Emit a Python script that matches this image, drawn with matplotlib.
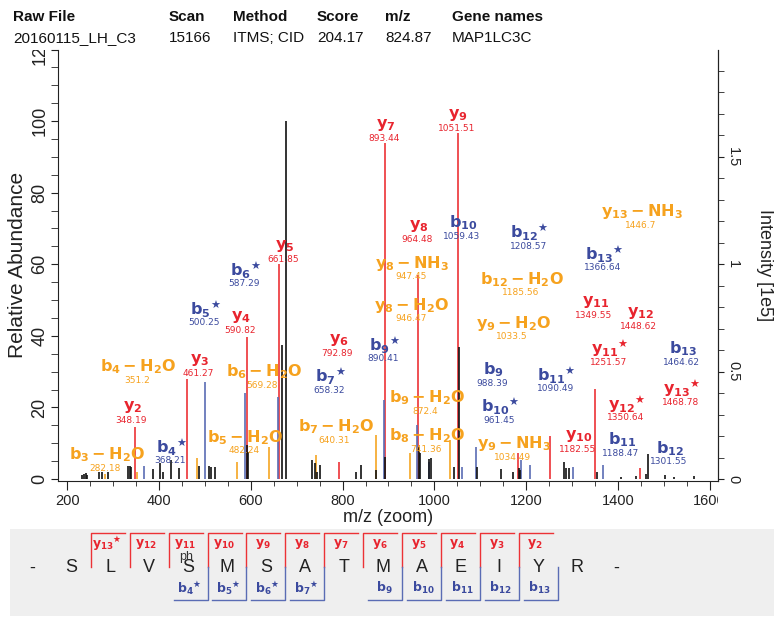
import re
import matplotlib
matplotlib.use("Agg")
import matplotlib.pyplot as plt
from matplotlib.lines import Line2D
from matplotlib.patches import Rectangle
from matplotlib.transforms import Bbox, TransformedBbox

plt.rcParams['font.family'] = ['Liberation Sans', 'DejaVu Sans']
plt.rcParams['mathtext.fontset'] = 'dejavusans'

W, H = 774, 623

# ---- header -------------------------------------------------------------
header_keys = ["Raw File", "Scan", "Method", "Score", "m/z", "Gene names"]
header_vals = ["20160115_LH_C3", "15166", "ITMS; CID", "204.17", "824.87", "MAP1LC3C"]

# ---- spectrum: unassigned peaks (m/z, relative abundance) ------------------
other_mz = [232.7, 237.1, 240.3, 243.6, 270.4, 275.6, 288.7, 332.3, 335.8, 339.5,
            386.8, 402.7, 407.7, 426.0, 444.1, 487.6, 509.5, 513.8, 521.0, 591.6,
            593.8, 667.9, 676.6, 733.2, 738.9, 744.1, 751.3, 829.1, 840.6, 873.4,
            892.9, 967.0, 969.6, 989.0, 992.0, 1043.3, 1052.7, 1092.8, 1145.1, 1171.2,
            1184.3, 1187.2, 1283.0, 1287.4, 1292.4, 1354.3, 1407.2, 1439.9, 1461.3, 1464.8,
            1501.8, 1522.9, 1566.5]
other_rel = [1.0, 1.4, 1.6, 1.2, 2.0, 2.0, 2.0, 3.6, 3.6, 3.4,
             2.8, 4.6, 2.0, 5.3, 3.1, 3.6, 3.6, 3.4, 3.4, 9.5,
             7.5, 37.4, 100.0, 5.3, 4.4, 2.0, 3.9, 2.0, 3.9, 2.5,
             6.2, 9.0, 7.2, 5.5, 5.9, 3.4, 37.0, 3.4, 2.8, 2.1,
             3.0, 2.5, 4.8, 3.2, 3.0, 2.0, 0.7, 0.9, 1.5, 7.0,
             1.0, 0.5, 0.8]

# assigned peaks
y_mz = [348.19, 461.27, 590.82, 661.85, 792.89, 893.44, 964.48, 1051.51, 1182.55, 1251.57, 1350.64, 1448.62]
y_rel = [14.6, 27.9, 39.7, 60.2, 4.7, 94.0, 57.0, 96.6, 7.2, 12.0, 25.3, 3.0]
b_mz = [368.21, 500.25, 587.29, 658.32, 890.41, 961.45, 988.39, 1059.43, 1090.49, 1188.47, 1208.57, 1301.55, 1366.64]
b_rel = [3.6, 27.2, 24.0, 23.0, 22.0, 15.0, 4.9, 3.4, 9.0, 5.3, 4.0, 3.3, 4.0]
loss_mz = [282.18, 351.2, 482.24, 569.28, 640.31, 741.36, 872.4, 946.47, 1033.5]
loss_rel = [1.5, 2.0, 5.8, 4.8, 9.0, 6.7, 12.3, 7.2, 10.9]

# ion labels: name, m/z text, label anchor (m/z, rel)
y_labels = [("y2", "348.19", 341.7, 20.1), ("y3", "461.27", 488.0, 33.3),
            ("y4", "590.82", 579.2, 45.4), ("y5", "661.85", 673.5, 65.2),
            ("y6", "792.89", 791.2, 38.8), ("y7", "893.44", 893.0, 98.9),
            ("y8", "964.48", 965.6, 70.7), ("y9", "1051.51", 1050.9, 101.7),
            ("y10", "1182.55", 1314.2, 12.1), ("y11", "1349.55", 1350.6, 49.6),
            ("y11*", "1251.57", 1383.3, 36.5), ("y12", "1448.62", 1448.6, 46.5),
            ("y12*", "1350.64", 1419.7, 21.0), ("y13*", "1468.78", 1539.5, 25.3)]
b_labels = [("b4*", "368.21", 428.2, 9.0), ("b5*", "500.25", 500.7, 47.4),
            ("b6*", "587.29", 587.9, 58.4), ("b7*", "658.32", 773.1, 28.6),
            ("b9*", "890.41", 890.8, 37.5), ("b9", "988.39", 1128.9, 30.5),
            ("b10", "1059.43", 1062.3, 71.6), ("b10*", "961.45", 1143.6, 20.2),
            ("b11*", "1090.49", 1267.1, 29.1), ("b11", "1188.47", 1408.8, 10.9),
            ("b12", "1301.55", 1512.5, 8.6), ("b12*", "1208.57", 1207.4, 68.8),
            ("b13*", "1366.64", 1370.2, 62.8), ("b13", "1464.62", 1541.7, 36.5)]
loss_labels = [("b3-H2O", "282.18", 286.5, 6.7), ("b4-H2O", "351.2", 355.4, 31.4),
               ("b5-H2O", "482.24", 587.9, 11.7), ("b6-H2O", "569.28", 627.8, 30.0),
               ("b7-H2O", "640.31", 785.5, 14.6), ("b8-H2O", "741.36", 983.8, 12.1),
               ("b9-H2O", "872.4", 983.8, 22.8), ("b12-H2O", "1185.56", 1190.8, 55.8),
               ("y8-NH3", "947.45", 952.5, 60.3), ("y8-H2O", "946.47", 951.2, 48.6),
               ("y9-H2O", "1033.5", 1172.5, 43.5), ("y9-NH3", "1034.49", 1174.1, 9.8),
               ("y13-NH3", "1446.7", 1452.4, 74.7)]

# ---- sequence ---------------------------------------------------------------
sequence = "SLVSMSATMAEIYR"
seq_y_ions = ["y13*", "y12", "y11", "y10", "y9", "y8", "y7", "y6", "y5", "y4", "y3", "y2"]
seq_b_ions = ["b4*", "b5*", "b6*", "b7*", "b9", "b10", "b11", "b12", "b13"]
phospho_site = 4

RED = '#e8242e'
BLUE = '#3b4a9e'
ORANGE = '#f6a21e'
RED_LINE = '#ec3236'
BLUE_LINE = '#5a6cb4'
ORANGE_LINE = '#f5a623'
TXT = '#222222'


def ion_tex(name):
    ion, num, star, loss = re.match(r'([by])(\d+)(\*?)(?:-(H2O|NH3))?$', name).groups()
    s = r'\mathbf{' + ion + '_{' + num + '}'
    if loss == 'H2O':
        s += r'-H_{2}O'
    elif loss == 'NH3':
        s += r'-NH_{3}'
    s = '{' + s + '}}'
    if star:
        s += r'^{\bigstar}'
    return '$' + s + '$'


def fx(px):
    return px / W


def fy(py):
    return 1 - py / H


fig = plt.figure(figsize=(W / 100, H / 100), dpi=100)

# header
key_x = [13, 169, 233, 317, 385, 452]
for k, v, x in zip(header_keys, header_vals, key_x):
    fig.text(fx(x), fy(17), k, fontsize=11, fontweight='bold', va='center', ha='left',
             color='#111')
    fig.text(fx(x), fy(38), v, fontsize=11, va='center', ha='left', color='#111')

# spectrum axes
ax = fig.add_axes([fx(58), fy(480.5), 660 / W, 431 / H])
ax.set_xlim(180, 1618)
ax.set_ylim(-0.4, 120)

ax.vlines(y_mz, 0, y_rel, colors=RED_LINE, lw=1.2)
ax.vlines(b_mz, 0, b_rel, colors=BLUE_LINE, lw=1.2)
ax.vlines(loss_mz, 0, loss_rel, colors=ORANGE_LINE, lw=1.2)
ax.vlines(other_mz, 0, other_rel, colors='#111111', lw=1.2)

for labels, col in ((y_labels, RED), (b_labels, BLUE), (loss_labels, ORANGE)):
    for name, val, lx, ly in labels:
        ax.text(lx, ly, ion_tex(name), color=col, fontsize=11.5, ha='center', va='center')
        ax.annotate(val, (lx, ly), xytext=(-1, -9.8), textcoords='offset points',
                    color=col, fontsize=6.5, ha='center', va='center',
                    family='DejaVu Sans')

ax.spines['top'].set_visible(False)
for s in ('left', 'bottom', 'right'):
    ax.spines[s].set_color(TXT)

ax.set_xticks(range(200, 1601, 200))
ax.set_xticks(range(200, 1601, 50), minor=True)
ax.set_yticks(range(0, 121, 20))
ax.set_yticks(range(0, 121, 5), minor=True)
ax.tick_params(axis='x', which='major', length=6.5, labelsize=10.5, colors=TXT, pad=3)
ax.tick_params(axis='x', which='minor', length=3.5, colors=TXT)
ax.tick_params(axis='y', which='both', length=5, labelsize=13, colors=TXT,
               labelrotation=90, pad=2)
for lab in ax.get_yticklabels():
    lab.set_va('center')

# tick labels are cut at the plot frame, as in the source program
xclip = TransformedBbox(Bbox([[-0.3, -0.5], [1.0, 1.0]]), ax.transAxes)
for lab in ax.get_xticklabels():
    lab.set_clip_box(xclip)
    lab.set_clip_on(True)
yclip = TransformedBbox(Bbox([[-0.3, -0.5], [1.0, 1.0]]), ax.transAxes)
for lab in ax.get_yticklabels():
    lab.set_clip_box(yclip)
    lab.set_clip_on(True)

ax.set_xlabel('m/z (zoom)', fontsize=13, color=TXT, va='center')
ax.xaxis.set_label_coords(0.5, -0.087)
ax.set_ylabel('Relative Abundance', fontsize=15, color=TXT, va='center', ha='center')
ax.yaxis.set_label_coords(-0.062, 0.5)

ax2 = ax.twinx()
ax2.set_ylim(-0.4 / 60, 2.0)
for s in ('top', 'left', 'bottom'):
    ax2.spines[s].set_visible(False)
ax2.spines['right'].set_color(TXT)
ax2.set_yticks([0, 0.5, 1, 1.5])
ax2.set_yticklabels(['0', '0.5', '1', '1.5'])
ax2.set_yticks([i / 10 for i in range(0, 20)], minor=True)
ax2.tick_params(axis='y', which='both', length=4, labelsize=10.5, colors=TXT,
                labelrotation=-90, pad=2)
for lab in ax2.get_yticklabels():
    lab.set_va('center')
ax2.set_ylabel('Intensity [1e5]', fontsize=13, color=TXT, rotation=-90,
               va='center', ha='center')
ax2.yaxis.set_label_coords(1.071, 0.5)

# ---- sequence panel ---------------------------------------------------------
fig.patches.append(Rectangle((fx(10), fy(616)), fx(774) - fx(10), fy(529) - fy(616),
                             transform=fig.transFigure, facecolor='#efefef',
                             edgecolor='none', zorder=0))
x0, step, ymid = 32.5, 38.9, 568
letters = ['-'] + list(sequence) + ['-']
for i, ch in enumerate(letters):
    fig.text(fx(x0 + step * i), fy(ymid), ch, fontsize=13, color=TXT,
             ha='center', va='center')
fig.text(fx(x0 + step * phospho_site - 2), fy(557), 'ph', fontsize=9, color='#333',
         ha='center', va='center')

n_res = len(sequence)
for name in seq_y_ions:
    n = int(re.findall(r'\d+', name)[0])
    bx = x0 + step * (n_res - n + 0.5)
    fig.add_artist(Line2D([fx(bx), fx(bx), fx(bx + 34)], [fy(567), fy(533), fy(533)],
                          transform=fig.transFigure, color=RED_LINE, lw=1))
    fig.text(fx(bx + 16.5), fy(544), ion_tex(name), fontsize=9, color=RED,
             ha='center', va='center')
for name in seq_b_ions:
    n = int(re.findall(r'\d+', name)[0])
    bx = x0 + step * (n + 0.5)
    fig.add_artist(Line2D([fx(bx), fx(bx), fx(bx - 34)], [fy(567), fy(600), fy(600)],
                          transform=fig.transFigure, color=BLUE_LINE, lw=1))
    fig.text(fx(bx - 18), fy(588), ion_tex(name), fontsize=9, color=BLUE,
             ha='center', va='center')

fig.savefig('out.png', dpi=100)
